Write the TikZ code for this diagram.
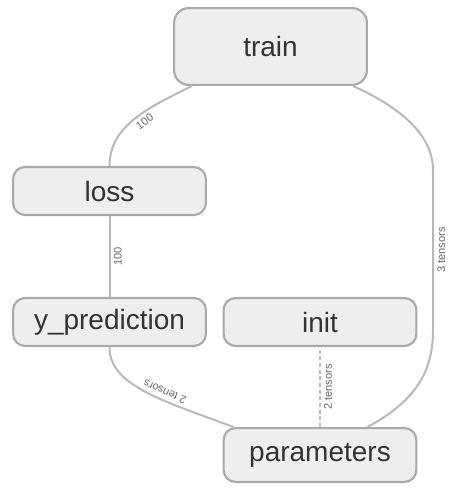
\documentclass[tikz,border=0pt]{standalone}
\usepackage{fontspec}
\setmainfont{Liberation Sans}
\usetikzlibrary{calc}
\definecolor{nodebg}{HTML}{EEEEEE}
\definecolor{nodeln}{HTML}{A9A9A9}
\definecolor{edgec}{HTML}{B8B8B8}
\definecolor{txtc}{HTML}{333333}
\definecolor{lblc}{HTML}{666666}
\tikzset{
  op/.style={draw=nodeln,line width=1.6pt,rounded corners=9pt,fill=nodebg,text=txtc,minimum width=144.6pt,minimum height=36pt,inner sep=0pt,font=\fontsize{21}{25}\selectfont},
  ed/.style={edgec,line width=1.5pt},
  dsh/.style={edgec,line width=1.3pt,dash pattern=on 3pt off 2pt},
  lbl/.style={font=\fontsize{8.3}{10}\selectfont,text=lblc,sloped,below,allow upside down,inner sep=2.5pt}
}
\begin{document}
\begin{tikzpicture}[x=0.75pt,y=-0.75pt]
\useasboundingbox (0,0) rectangle (467,497);
\node[op,minimum height=57.6pt,rounded corners=11pt] (train) at (270.5,46.5) {train};
\node[op] (loss) at (109.5,191) {loss};
\node[op] (ypred) at (109.5,322) {y\_prediction};
\node[op] (init) at (320,322) {init};
\node[op,minimum height=40.4pt] (params) at (320,455) {parameters};
% edges, drawn from input up to output
\draw[ed] (loss.north) .. controls +(0,-41) and +(-42,21) .. ($(train.south west)+(19,0)$) node[lbl,pos=0.55]{100};
\draw[ed] (ypred.north) -- (loss.south) node[lbl,midway]{100};
\draw[ed] ($(params.north west)+(11,0)$) .. controls +(-73,-27) and +(0,38) .. (ypred.south) node[lbl,pos=0.38]{2 tensors};
\draw[dsh] (params.north) -- (init.south) node[lbl,midway]{2 tensors};
\draw[ed] ($(params.north east)+(-50,0)$) .. controls +(50,-27) and +(0,40) .. (433,330)
  -- (433,170) node[lbl,midway]{3 tensors}
  .. controls +(0,-35) and +(47,21) .. ($(train.south east)+(-15,0)$);
\end{tikzpicture}
\end{document}
